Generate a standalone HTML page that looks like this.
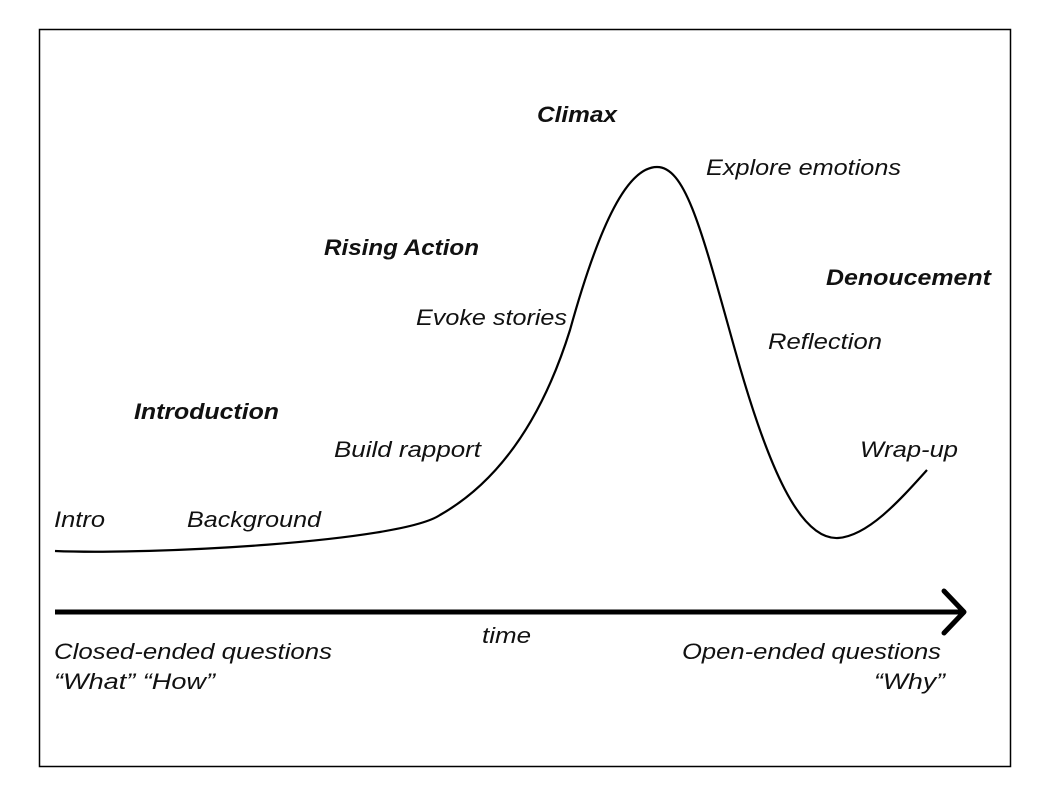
<!DOCTYPE html>
<html><head><meta charset="utf-8"><style>
html,body{margin:0;padding:0;background:#fff;}
svg{display:block}
text{font-family:"Liberation Sans",sans-serif;font-style:italic;font-size:22px;fill:#111;}
.b{font-weight:bold;}
</style></head><body>
<svg width="1050" height="796" viewBox="0 0 1050 796">
<rect x="39.5" y="29.5" width="971" height="737" fill="#fff" stroke="#000" stroke-width="1.5"/>
<path d="M55,551 C150,555 400,542 440,515 C505,478 545,410 570,330 C600,222 628,167 657,167 C686,167 702,232 735,350 C768,468 800,540 838,538 C868,536 900,500 927,470" fill="none" stroke="#000" stroke-width="2.2"/>
<line x1="55" y1="612" x2="962" y2="612" stroke="#000" stroke-width="5"/>
<polyline points="944,591 964,612 944,633" fill="none" stroke="#000" stroke-width="5" stroke-linecap="round" stroke-linejoin="round"/>
<g lengthAdjust="spacingAndGlyphs">
<text class="b" x="537" y="122" textLength="80" lengthAdjust="spacingAndGlyphs">Climax</text>
<text x="706" y="175" textLength="195" lengthAdjust="spacingAndGlyphs">Explore emotions</text>
<text class="b" x="324" y="255" textLength="155" lengthAdjust="spacingAndGlyphs">Rising Action</text>
<text class="b" x="826" y="285" textLength="165" lengthAdjust="spacingAndGlyphs">Denoucement</text>
<text x="416" y="325" textLength="151" lengthAdjust="spacingAndGlyphs">Evoke stories</text>
<text x="768" y="349" textLength="114" lengthAdjust="spacingAndGlyphs">Reflection</text>
<text class="b" x="134" y="419" textLength="145" lengthAdjust="spacingAndGlyphs">Introduction</text>
<text x="334" y="457" textLength="147" lengthAdjust="spacingAndGlyphs">Build rapport</text>
<text x="860" y="457" textLength="98" lengthAdjust="spacingAndGlyphs">Wrap-up</text>
<text x="54" y="527" textLength="51" lengthAdjust="spacingAndGlyphs">Intro</text>
<text x="187" y="527" textLength="134" lengthAdjust="spacingAndGlyphs">Background</text>
<text x="482" y="643" textLength="49" lengthAdjust="spacingAndGlyphs">time</text>
<text x="54" y="659" textLength="278" lengthAdjust="spacingAndGlyphs">Closed-ended questions</text>
<text x="54" y="689" textLength="161" lengthAdjust="spacingAndGlyphs">“What” “How”</text>
<text x="682" y="659" textLength="259" lengthAdjust="spacingAndGlyphs">Open-ended questions</text>
<text x="874" y="689" textLength="71" lengthAdjust="spacingAndGlyphs">“Why”</text>
</g>
</svg>
</body></html>
